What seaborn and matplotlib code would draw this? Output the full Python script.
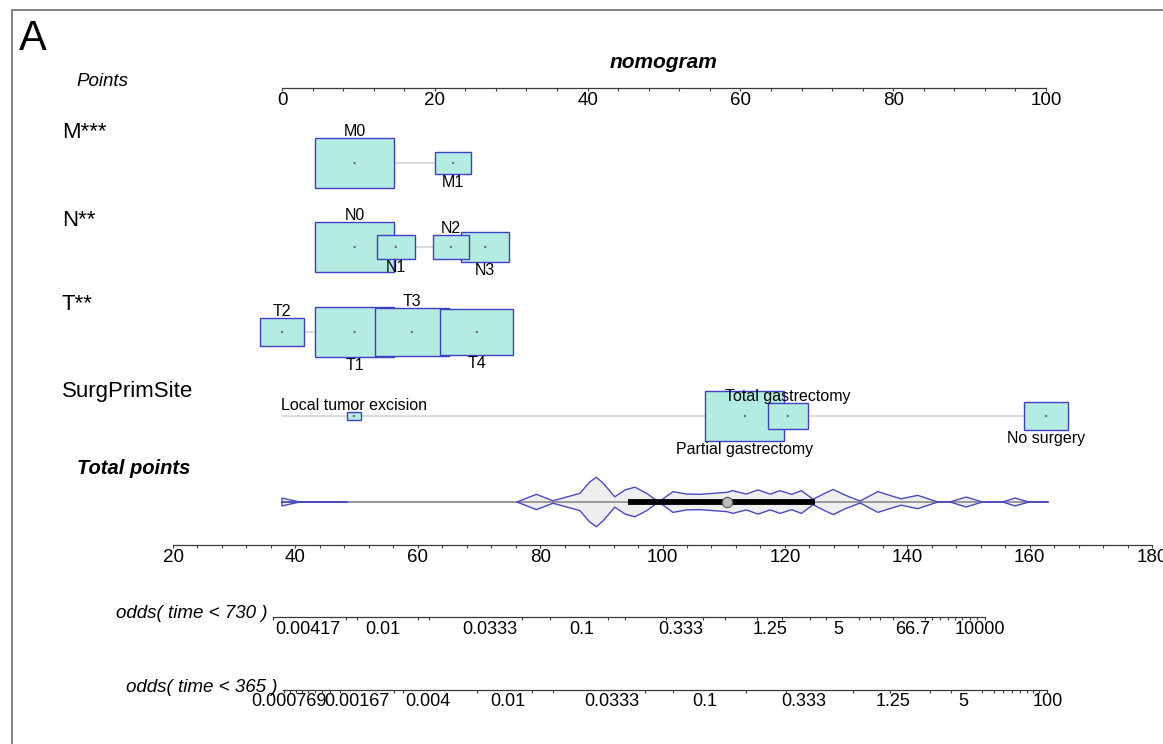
import numpy as np
import pandas as pd
import matplotlib
matplotlib.use("Agg")
import matplotlib.pyplot as plt
from matplotlib.patches import Rectangle
import seaborn as sns

# ---------------- data ----------------
row_titles = ["M***", "N**", "T**", "SurgPrimSite"]

m_levels = ["M0", "M1"]
m_points = [9.5, 22.4]
m_freq = [0.83, 0.17]

n_levels = ["N0", "N1", "N2", "N3"]
n_points = [9.5, 14.9, 22.1, 26.6]
n_freq = [0.55, 0.13, 0.115, 0.205]

t_levels = ["T2", "T1", "T3", "T4"]
t_points = [0.0, 9.5, 17.0, 25.5]
t_freq = [0.10, 0.33, 0.29, 0.28]

surg_levels = ["Local tumor excision", "Partial gastrectomy", "Total gastrectomy", "No surgery"]
surg_points = [9.4, 60.6, 66.2, 100.0]
surg_freq = [0.02, 0.63, 0.16, 0.19]
surg_line_start = 0.0

points_ticks = [0, 20, 40, 60, 80, 100]
points_minor = list(range(0, 101, 4))

total_ticks = [20, 40, 60, 80, 100, 120, 140, 160, 180]
total_minor = list(range(20, 181, 4))

# density of total points (relative), two separate runs
dens_tp_low = [37.8, 37.8, 40.7, 48.4]
dens_val_low = [0.0, 0.16, 0.0, 0.0]
dens_tp = [76.2, 79.4, 82.1, 84.9, 86.5, 88.1, 89.2, 90.3, 92.2, 93.9, 95.5, 97.4,
           99.4, 101.7, 104.0, 106.1, 108.3, 110.5, 111.5, 113.7, 115.6, 117.6,
           119.2, 121.1, 122.7, 124.6, 126.5, 127.9, 129.8, 132.3, 135.2, 137.5,
           139.0, 141.7, 145.0, 147.0, 149.6, 152.3, 155.6, 157.6, 159.9, 163.0]
dens_val = [0.0, 0.31, 0.05, 0.24, 0.35, 0.81, 1.0, 0.76, 0.21, 0.49, 0.60, 0.35,
            0.0, 0.42, 0.32, 0.31, 0.35, 0.39, 0.46, 0.32, 0.49, 0.32,
            0.46, 0.31, 0.46, 0.11, 0.35, 0.51, 0.28, 0.04, 0.42, 0.24,
            0.13, 0.27, 0.0, 0.0, 0.20, 0.0, 0.0, 0.16, 0.0, 0.0]
total_q1, total_median, total_q3 = 94.4, 110.5, 124.9
total_line = (37.8, 163.0)

odds730_labels = ["0.00417", "0.01", "0.0333", "0.1", "0.333", "1.25", "5", "66.7", "10000"]
odds730_pos = [42.1, 54.3, 71.8, 86.8, 103.0, 117.6, 128.8, 140.8, 151.9]
odds730_minor = [36.3, 48.3, 50.1, 60.0, 61.8, 77.0, 81.6, 91.1, 93.9, 100.6, 106.6,
                 110.2, 115.4, 119.5, 124.1, 126.7, 132.1, 133.9, 135.5, 137.7,
                 142.9, 144.0, 145.3, 146.7, 147.8, 148.9, 150.2, 151.4, 152.7]
odds730_range = (36.3, 152.7)

odds365_labels = ["0.000769", "0.00167", "0.004", "0.01", "0.0333", "0.1", "0.333",
                  "1.25", "5", "100"]
odds365_pos = [39.0, 50.1, 61.7, 74.7, 91.7, 106.9, 123.0, 137.7, 149.1, 163.0]
odds365_minor = [38.1, 39.1, 40.1, 41.1, 42.1, 43.2, 44.4, 45.7, 47.3, 50.1, 56.1,
                 57.6, 61.7, 69.7, 78.7, 82.1, 97.1, 101.7, 113.6, 120.2, 131.1,
                 137.2, 143.7, 147.1, 152.2, 154.2, 155.6, 157.1, 158.4, 159.6,
                 160.5, 161.5, 162.8]
odds365_range = (38.0, 162.8)

# ---------------- style ----------------
sns.set_theme(style="white")
plt.rcParams["font.family"] = ["Liberation Sans", "DejaVu Sans"]
plt.rcParams["text.color"] = "black"
plt.rcParams["xtick.color"] = "black"

W, H = 1163, 744
fig = plt.figure(figsize=(W / 100, H / 100), dpi=100)

PTS_X0, PTS_SCALE = 282.0, 7.64      # pixel of 0 points, pixels per point
TP_X0, TP_SCALE = 173.0, 6.119       # pixel of 20 total points, pixels per total point
PTS_LIM = ((0 - PTS_X0) / PTS_SCALE, (W - PTS_X0) / PTS_SCALE)
TP_LIM = (20 + (0 - TP_X0) / TP_SCALE, 20 + (W - TP_X0) / TP_SCALE)

BOX_FILL = "#B3ECE0"
BOX_EDGE = "#3F3FC8"
AX_COL = "#3a3a3a"


def fx(px):
    return px / W


def fy(py):
    return 1 - py / H


ax_p = fig.add_axes([0, 0, 1, 1])
ax_p.set_xlim(*PTS_LIM)
ax_p.set_ylim(H, 0)
ax_p.axis("off")

ax_t = fig.add_axes([0, 0, 1, 1])
ax_t.set_xlim(*TP_LIM)
ax_t.set_ylim(H, 0)
ax_t.axis("off")

# frame
fig.patches.append(Rectangle((fx(12), fy(760)), fx(1175) - fx(12), fy(10) - fy(760),
                             transform=fig.transFigure, fill=False,
                             edgecolor="#7a7a7a", linewidth=1.3))

fig.text(fx(19), fy(39), "A", fontsize=30, ha="left", va="center", color="black")
fig.text(fx(664), fy(62), "nomogram", fontsize=15, fontweight="bold",
         fontstyle="italic", ha="center", va="center", color="black")
fig.text(fx(76), fy(82), "Points", fontsize=13.5, fontstyle="italic",
         ha="left", va="center", color="black")


def scale_axis(line_y, lim, rng, major, labels, minor, fs, pad):
    a = fig.add_axes([0, fy(line_y), 1, 1e-4])
    a.set_xlim(*lim)
    a.set_facecolor("none")
    for s in ["top", "left", "right"]:
        a.spines[s].set_visible(False)
    a.spines["bottom"].set_bounds(*rng)
    a.spines["bottom"].set_color(AX_COL)
    a.spines["bottom"].set_linewidth(0.9)
    a.set_yticks([])
    a.set_xticks(major)
    a.set_xticklabels(labels, fontsize=fs, color="black")
    a.set_xticks(minor, minor=True)
    a.tick_params(axis="x", which="both", direction="out", bottom=True,
                  color=AX_COL, width=0.8, labelcolor="black")
    a.tick_params(axis="x", which="major", length=2.2, pad=pad)
    a.tick_params(axis="x", which="minor", length=2.2)
    return a


scale_axis(88, PTS_LIM, (0, 100), points_ticks, [str(v) for v in points_ticks],
           points_minor, 13.5, 0.5)
scale_axis(545, TP_LIM, (20, 180), total_ticks, [str(v) for v in total_ticks],
           total_minor, 13.5, 0.5)

a730 = scale_axis(617, TP_LIM, odds730_range, odds730_pos, odds730_labels,
                  odds730_minor, 13, 3.0)
a730.tick_params(axis="x", which="major", length=0)
a365 = scale_axis(690, TP_LIM, odds365_range, odds365_pos, odds365_labels,
                  odds365_minor, 13, 2.0)
a365.tick_params(axis="x", which="major", length=0)

fig.text(fx(268), fy(614), "odds( time < 730 )", fontsize=13.5, fontstyle="italic",
         ha="right", va="center", color="black")
fig.text(fx(278), fy(688), "odds( time < 365 )", fontsize=13.5, fontstyle="italic",
         ha="right", va="center", color="black")

# ---------------- variable rows ----------------
rows = [
    (m_levels, m_points, m_freq, None),
    (n_levels, n_points, n_freq, None),
    (t_levels, t_points, t_freq, None),
    (surg_levels, surg_points, surg_freq, surg_line_start),
]
title_y = [133, 220, 305, 392]
row_y = [163, 247, 332, 416]
MAX_W = 79 / PTS_SCALE     # widest box, in points
MAX_H = 50.5               # tallest box, in pixels

for (levels, pts, freq, lstart), ty, ry, title in zip(rows, title_y, row_y, row_titles):
    fig.text(fx(62), fy(ty), title, fontsize=16, ha="left", va="center", color="black")
    lo = min(pts) if lstart is None else min(lstart, min(pts))
    ax_p.plot([lo, max(pts)], [ry, ry], color="#dcdcdc", lw=1.4, zorder=1)
    rel = np.sqrt(np.array(freq) / max(freq))
    widths = MAX_W * rel
    heights = MAX_H * rel
    order = np.argsort(-rel, kind="stable")
    for k, i in enumerate(order):
        ax_p.bar(pts[i], heights[i], width=widths[i], bottom=ry - heights[i] / 2,
                 color=BOX_FILL, edgecolor=BOX_EDGE, linewidth=1.0, zorder=2 + k)
    df = pd.DataFrame({"x": pts, "y": [ry] * len(pts)})
    sns.scatterplot(data=df, x="x", y="y", ax=ax_p, s=3, color="#6f6f6f",
                    edgecolor="none", zorder=20, legend=False)
    for j, (lab, p) in enumerate(zip(levels, pts)):
        if j % 2 == 0:
            ax_p.text(p, ry - heights[j] / 2 + 1, lab, fontsize=11.5, ha="center",
                      va="bottom", zorder=30, color="black")
        else:
            ax_p.text(p, ry + heights[j] / 2 + 1, lab, fontsize=11.5, ha="center",
                      va="top", zorder=30, color="black")
ax_p.set_xlim(*PTS_LIM)
ax_p.set_ylim(H, 0)
ax_p.axis("off")

# ---------------- total points ----------------
fig.text(fx(77), fy(468), "Total points", fontsize=14.5, fontweight="bold",
         fontstyle="italic", ha="left", va="center", color="black")
VY = 502
VH = 24.7
ax_t.plot(list(total_line), [VY, VY], color="#8c8c8c", lw=1.3, zorder=1)
for tps, dv in [(dens_tp_low, dens_val_low), (dens_tp, dens_val)]:
    tps = np.array(tps)
    dv = np.array(dv)
    up = VY - dv * VH
    dn = VY + dv * VH
    ax_t.fill_between(tps, up, dn, color="#efefef", zorder=2, linewidth=0)
    ax_t.plot(tps, np.full_like(tps, VY), color="#8c8c8c", lw=1.2, zorder=3)
    for yy in (up, dn):
        sns.lineplot(x=tps, y=yy, ax=ax_t, sort=False, estimator=None,
                     color="#4a4ac4", lw=1.0, zorder=4)
ax_t.plot([dens_tp_low[0], dens_tp_low[-1]], [VY, VY], color="#4a4ac4", lw=1.2, zorder=4)
ax_t.plot([total_q1, total_q3], [VY, VY], color="black", lw=4.2,
          solid_capstyle="butt", zorder=5)
sns.scatterplot(x=[total_median], y=[VY], ax=ax_t, s=55, color="#bdbdbd",
                edgecolor="#555555", linewidth=0.8, zorder=6, legend=False)
ax_t.set_xlim(*TP_LIM)
ax_t.set_ylim(H, 0)
ax_t.axis("off")

fig.savefig("out.png", dpi=100)
